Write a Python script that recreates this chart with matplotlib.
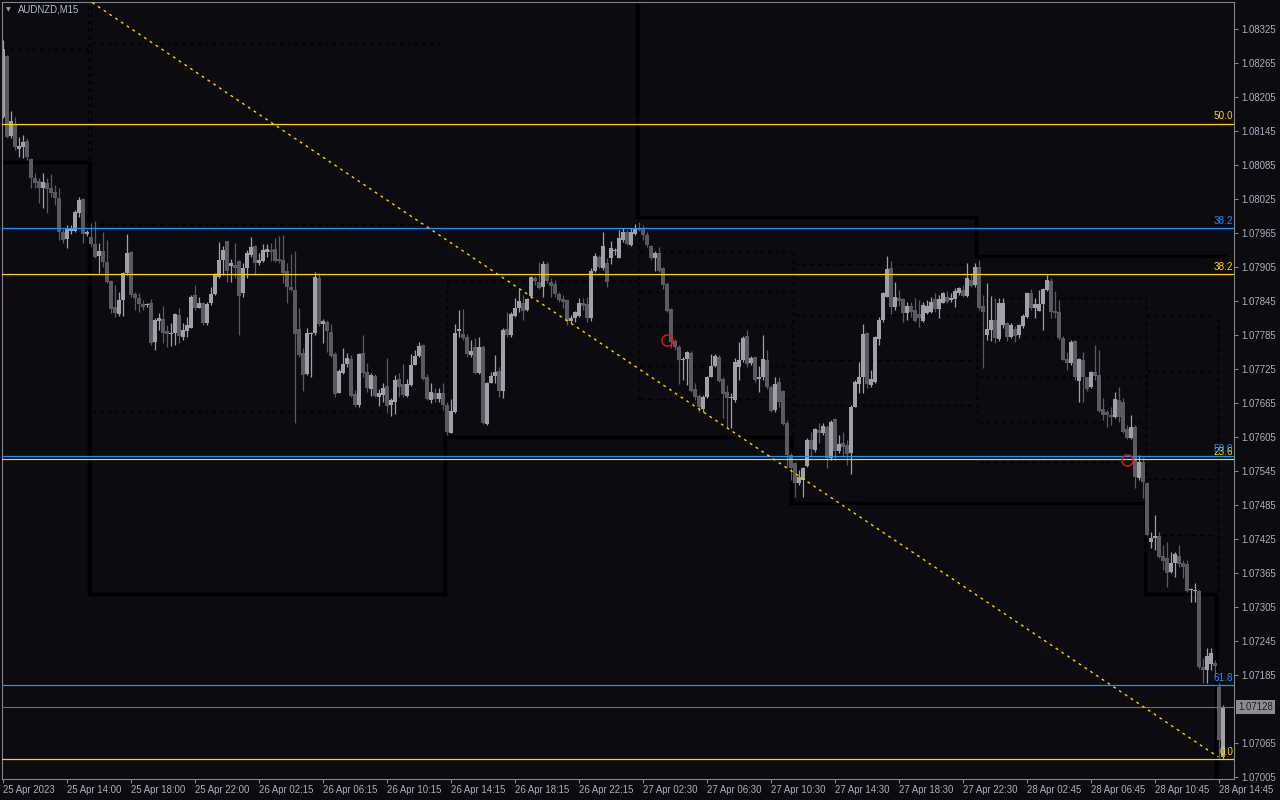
import matplotlib
matplotlib.use("Agg")
import matplotlib.pyplot as plt
import matplotlib.transforms as mtransforms

# ---------------- data ----------------
symbol_label = "AUDNZD,M15"

opens = [
1.08170,1.08278,1.08137,1.08156,1.08114,1.08117,1.08128,1.08096,1.08063,1.08057,
1.08045,1.08054,1.08045,1.08038,1.08027,1.07966,1.07955,1.07969,1.07969,1.08001,
1.08026,1.07964,1.07958,1.07946,1.07925,1.07934,1.07914,1.07881,1.07835,1.07822,
1.07847,1.07895,1.07932,1.07858,1.07851,1.07840,1.07838,1.07842,1.07773,1.07810,
1.07814,1.07792,1.07787,1.07789,1.07821,1.07782,1.07792,1.07798,1.07856,1.07833,
1.07842,1.07807,1.07842,1.07858,1.07888,1.07918,1.07951,1.07907,1.07909,1.07916,
1.07860,1.07904,1.07927,1.07943,1.07913,1.07916,1.07932,1.07935,1.07937,1.07920,
1.07918,1.07898,1.07870,1.07865,1.07796,1.07754,1.07717,1.07787,1.07789,1.07886,
1.07805,1.07808,1.07791,1.07752,1.07683,1.07718,1.07734,1.07743,1.07681,1.07662,
1.07754,1.07720,1.07690,1.07713,1.07676,1.07679,1.07695,1.07662,1.07667,1.07708,
1.07699,1.07678,1.07697,1.07732,1.07748,1.07768,1.07711,1.07671,1.07683,1.07672,
1.07683,1.07662,1.07612,1.07649,1.07792,1.07787,1.07782,1.07750,1.07764,1.07718,
1.07764,1.07628,1.07701,1.07713,1.07722,1.07687,1.07796,1.07785,1.07819,1.07833,
1.07842,1.07829,1.07854,1.07886,1.07879,1.07870,1.07911,1.07879,1.07875,1.07858,
1.07849,1.07847,1.07810,1.07815,1.07819,1.07842,1.07840,1.07815,1.07898,1.07923,
1.07904,1.07913,1.07921,1.07934,1.07921,1.07953,1.07967,1.07944,1.07964,1.07974,
1.07974,1.07962,1.07943,1.07921,1.07930,1.07904,1.07875,1.07831,1.07775,1.07764,
1.07741,1.07743,1.07754,1.07690,1.07678,1.07655,1.07676,1.07710,1.07731,1.07747,
1.07708,1.07685,1.07674,1.07671,1.07729,1.07741,1.07784,1.07736,1.07747,1.07708,
1.07711,1.07741,1.07694,1.07653,1.07702,1.07687,1.07630,1.07573,1.07559,1.07524,
1.07529,1.07554,1.07600,1.07582,1.07618,1.07612,1.07623,1.07567,1.07637,1.07581,
1.07595,1.07591,1.07577,1.07658,1.07699,1.07711,1.07789,1.07697,1.07702,1.07778,
1.07812,1.07852,1.07904,1.07835,1.07851,1.07849,1.07824,1.07837,1.07829,1.07822,
1.07810,1.07824,1.07826,1.07849,1.07831,1.07842,1.07852,1.07847,1.07849,1.07860,
1.07865,1.07854,1.07882,1.07874,1.07905,1.07837,1.07785,1.07794,1.07812,1.07778,
1.07803,1.07807,1.07782,1.07796,1.07785,1.07801,1.07817,1.07860,1.07833,1.07828,
1.07840,1.07865,1.07881,1.07828,1.07826,1.07780,1.07743,1.07736,1.07775,1.07704,
1.07741,1.07710,1.07694,1.07720,1.07715,1.07655,1.07649,1.07644,1.07641,1.07671,
1.07667,1.07619,1.07604,1.07623,1.07533,1.07561,1.07524,1.07420,1.07427,1.07430,
1.07395,1.07392,1.07367,1.07383,1.07395,1.07383,1.07381,1.07335,1.07333,1.07333,
1.07199,1.07194,1.07204,1.07206,1.07164,1.07040]

highs = [
1.08306,1.08280,1.08181,1.08170,1.08135,1.08139,1.08133,1.08098,1.08071,1.08063,
1.08071,1.08063,1.08070,1.08050,1.08045,1.07973,1.07980,1.07980,1.08006,1.08029,
1.08027,1.07971,1.07983,1.07987,1.07948,1.07966,1.07953,1.07882,1.07874,1.07861,
1.07897,1.07964,1.07934,1.07861,1.07860,1.07847,1.07842,1.07849,1.07815,1.07824,
1.07837,1.07803,1.07807,1.07824,1.07833,1.07807,1.07817,1.07856,1.07874,1.07852,
1.07844,1.07844,1.07870,1.07895,1.07950,1.07943,1.07951,1.07920,1.07948,1.07918,
1.07913,1.07935,1.07958,1.07944,1.07930,1.07946,1.07946,1.07948,1.07957,1.07960,
1.07962,1.07913,1.07928,1.07934,1.07833,1.07762,1.07798,1.07791,1.07897,1.07895,
1.07814,1.07812,1.07805,1.07755,1.07725,1.07762,1.07754,1.07750,1.07688,1.07754,
1.07785,1.07736,1.07718,1.07717,1.07690,1.07701,1.07745,1.07674,1.07715,1.07718,
1.07734,1.07708,1.07752,1.07759,1.07773,1.07769,1.07717,1.07701,1.07692,1.07692,
1.07701,1.07667,1.07672,1.07805,1.07829,1.07831,1.07787,1.07777,1.07780,1.07782,
1.07768,1.07702,1.07720,1.07750,1.07729,1.07798,1.07826,1.07826,1.07851,1.07867,
1.07856,1.07851,1.07890,1.07890,1.07914,1.07916,1.07914,1.07886,1.07882,1.07861,
1.07856,1.07849,1.07821,1.07828,1.07851,1.07851,1.07852,1.07904,1.07930,1.07927,
1.07967,1.07921,1.07951,1.07939,1.07971,1.07974,1.07971,1.07974,1.07981,1.07985,
1.07980,1.07967,1.07944,1.07934,1.07941,1.07905,1.07879,1.07833,1.07778,1.07768,
1.07747,1.07757,1.07757,1.07701,1.07681,1.07679,1.07713,1.07752,1.07752,1.07750,
1.07710,1.07697,1.07683,1.07745,1.07773,1.07784,1.07794,1.07748,1.07747,1.07731,
1.07785,1.07759,1.07697,1.07711,1.07711,1.07688,1.07635,1.07577,1.07561,1.07547,
1.07552,1.07604,1.07614,1.07621,1.07630,1.07630,1.07626,1.07635,1.07639,1.07609,
1.07614,1.07600,1.07662,1.07706,1.07738,1.07805,1.07791,1.07724,1.07784,1.07817,
1.07861,1.07925,1.07916,1.07879,1.07865,1.07851,1.07844,1.07844,1.07851,1.07847,
1.07844,1.07847,1.07852,1.07860,1.07856,1.07861,1.07863,1.07860,1.07868,1.07870,
1.07874,1.07913,1.07895,1.07913,1.07918,1.07856,1.07877,1.07854,1.07851,1.07851,
1.07851,1.07808,1.07807,1.07801,1.07805,1.07822,1.07861,1.07867,1.07851,1.07865,
1.07868,1.07891,1.07886,1.07863,1.07847,1.07784,1.07755,1.07777,1.07777,1.07745,
1.07755,1.07711,1.07722,1.07768,1.07759,1.07674,1.07653,1.07657,1.07685,1.07694,
1.07674,1.07626,1.07644,1.07626,1.07573,1.07570,1.07526,1.07437,1.07468,1.07437,
1.07415,1.07420,1.07402,1.07402,1.07415,1.07388,1.07388,1.07339,1.07347,1.07335,
1.07215,1.07233,1.07233,1.07211,1.07171,1.07132]

lows = [
1.08169,1.08133,1.08133,1.08112,1.08100,1.08098,1.08094,1.08045,1.08045,1.08018,
1.08010,1.08001,1.08029,1.08015,1.07953,1.07948,1.07939,1.07964,1.07966,1.07994,
1.07948,1.07960,1.07941,1.07921,1.07895,1.07905,1.07877,1.07824,1.07817,1.07819,
1.07819,1.07891,1.07852,1.07829,1.07826,1.07829,1.07835,1.07768,1.07759,1.07794,
1.07771,1.07764,1.07766,1.07768,1.07771,1.07777,1.07782,1.07798,1.07829,1.07833,
1.07803,1.07803,1.07838,1.07856,1.07886,1.07891,1.07879,1.07879,1.07886,1.07785,
1.07852,1.07886,1.07923,1.07891,1.07909,1.07914,1.07923,1.07916,1.07914,1.07913,
1.07877,1.07842,1.07863,1.07630,1.07747,1.07687,1.07715,1.07711,1.07785,1.07801,
1.07771,1.07755,1.07747,1.07676,1.07683,1.07717,1.07729,1.07676,1.07658,1.07658,
1.07710,1.07685,1.07678,1.07676,1.07660,1.07667,1.07648,1.07642,1.07646,1.07676,
1.07676,1.07676,1.07695,1.07732,1.07747,1.07706,1.07671,1.07665,1.07667,1.07667,
1.07653,1.07609,1.07612,1.07648,1.07782,1.07777,1.07747,1.07747,1.07717,1.07717,
1.07628,1.07626,1.07701,1.07701,1.07676,1.07674,1.07782,1.07782,1.07817,1.07826,
1.07812,1.07828,1.07851,1.07874,1.07867,1.07852,1.07877,1.07852,1.07852,1.07844,
1.07833,1.07803,1.07807,1.07808,1.07817,1.07829,1.07808,1.07810,1.07897,1.07904,
1.07900,1.07870,1.07911,1.07927,1.07921,1.07950,1.07944,1.07943,1.07962,1.07969,
1.07953,1.07941,1.07918,1.07898,1.07897,1.07867,1.07826,1.07762,1.07759,1.07699,
1.07706,1.07697,1.07685,1.07671,1.07649,1.07649,1.07674,1.07710,1.07729,1.07702,
1.07639,1.07621,1.07621,1.07667,1.07706,1.07738,1.07729,1.07732,1.07702,1.07685,
1.07706,1.07690,1.07649,1.07649,1.07658,1.07626,1.07552,1.07529,1.07499,1.07521,
1.07499,1.07552,1.07572,1.07579,1.07595,1.07609,1.07551,1.07565,1.07565,1.07577,
1.07570,1.07556,1.07540,1.07657,1.07683,1.07683,1.07692,1.07694,1.07701,1.07768,
1.07808,1.07852,1.07822,1.07829,1.07837,1.07808,1.07812,1.07817,1.07808,1.07799,
1.07808,1.07822,1.07824,1.07826,1.07815,1.07842,1.07842,1.07844,1.07835,1.07856,
1.07852,1.07852,1.07870,1.07870,1.07829,1.07727,1.07777,1.07775,1.07771,1.07775,
1.07798,1.07775,1.07780,1.07773,1.07780,1.07798,1.07815,1.07829,1.07815,1.07828,
1.07794,1.07863,1.07815,1.07815,1.07777,1.07740,1.07724,1.07732,1.07706,1.07667,
1.07667,1.07687,1.07692,1.07706,1.07649,1.07635,1.07623,1.07626,1.07639,1.07632,
1.07612,1.07602,1.07602,1.07515,1.07529,1.07498,1.07430,1.07409,1.07406,1.07392,
1.07370,1.07340,1.07365,1.07358,1.07376,1.07356,1.07331,1.07314,1.07314,1.07196,
1.07171,1.07171,1.07194,1.07181,1.07038,1.07037]

closes = [
1.08290,1.08135,1.08162,1.08117,1.08119,1.08126,1.08100,1.08063,1.08054,1.08045,
1.08056,1.08043,1.08036,1.08027,1.07966,1.07953,1.07973,1.07973,1.08003,1.08024,
1.07964,1.07966,1.07946,1.07923,1.07934,1.07914,1.07879,1.07831,1.07824,1.07847,
1.07895,1.07930,1.07856,1.07851,1.07840,1.07835,1.07838,1.07771,1.07812,1.07815,
1.07789,1.07787,1.07789,1.07822,1.07784,1.07794,1.07803,1.07852,1.07833,1.07842,
1.07807,1.07840,1.07858,1.07891,1.07918,1.07935,1.07898,1.07913,1.07904,1.07854,
1.07904,1.07930,1.07941,1.07913,1.07918,1.07935,1.07937,1.07932,1.07916,1.07916,
1.07895,1.07870,1.07865,1.07787,1.07750,1.07715,1.07789,1.07789,1.07888,1.07805,
1.07810,1.07792,1.07748,1.07681,1.07722,1.07734,1.07745,1.07678,1.07662,1.07752,
1.07718,1.07692,1.07715,1.07678,1.07683,1.07692,1.07660,1.07671,1.07706,1.07694,
1.07679,1.07699,1.07732,1.07748,1.07766,1.07708,1.07672,1.07685,1.07672,1.07683,
1.07662,1.07614,1.07651,1.07789,1.07796,1.07780,1.07752,1.07757,1.07718,1.07764,
1.07630,1.07701,1.07713,1.07720,1.07687,1.07794,1.07785,1.07822,1.07833,1.07845,
1.07828,1.07849,1.07888,1.07881,1.07868,1.07911,1.07881,1.07872,1.07858,1.07847,
1.07844,1.07810,1.07815,1.07826,1.07842,1.07837,1.07815,1.07898,1.07925,1.07905,
1.07943,1.07879,1.07939,1.07934,1.07957,1.07967,1.07946,1.07967,1.07974,1.07971,
1.07962,1.07944,1.07921,1.07930,1.07898,1.07874,1.07828,1.07773,1.07764,1.07741,
1.07743,1.07755,1.07687,1.07676,1.07657,1.07676,1.07711,1.07731,1.07748,1.07704,
1.07681,1.07674,1.07676,1.07738,1.07741,1.07780,1.07734,1.07745,1.07706,1.07711,
1.07743,1.07694,1.07651,1.07699,1.07667,1.07628,1.07573,1.07551,1.07524,1.07535,
1.07551,1.07600,1.07584,1.07619,1.07612,1.07625,1.07567,1.07632,1.07581,1.07593,
1.07588,1.07575,1.07658,1.07702,1.07711,1.07787,1.07699,1.07708,1.07782,1.07812,
1.07860,1.07902,1.07835,1.07852,1.07845,1.07824,1.07837,1.07826,1.07810,1.07815,
1.07838,1.07837,1.07844,1.07831,1.07849,1.07860,1.07844,1.07851,1.07863,1.07868,
1.07854,1.07886,1.07872,1.07905,1.07833,1.07826,1.07796,1.07812,1.07780,1.07842,
1.07842,1.07782,1.07803,1.07784,1.07803,1.07819,1.07860,1.07833,1.07840,1.07840,
1.07867,1.07882,1.07826,1.07824,1.07780,1.07741,1.07736,1.07773,1.07710,1.07743,
1.07710,1.07690,1.07720,1.07713,1.07651,1.07644,1.07644,1.07641,1.07672,1.07641,
1.07614,1.07604,1.07623,1.07535,1.07561,1.07526,1.07432,1.07427,1.07430,1.07393,
1.07386,1.07365,1.07383,1.07399,1.07381,1.07376,1.07333,1.07335,1.07334,1.07199,
1.07194,1.07219,1.07224,1.07201,1.07070,1.07128]

x_tick_bars = [0, 16, 32, 48, 64, 80, 96, 112, 128, 144, 160, 176, 192, 208, 224, 240, 256, 272, 288, 304]
x_tick_labels = ["25 Apr 2023", "25 Apr 14:00", "25 Apr 18:00", "25 Apr 22:00", "26 Apr 02:15",
                 "26 Apr 06:15", "26 Apr 10:15", "26 Apr 14:15", "26 Apr 18:15", "26 Apr 22:15",
                 "27 Apr 02:30", "27 Apr 06:30", "27 Apr 10:30", "27 Apr 14:30", "27 Apr 18:30",
                 "27 Apr 22:30", "28 Apr 02:45", "28 Apr 06:45", "28 Apr 10:45", "28 Apr 14:45"]

y_tick_labels = ["1.08325", "1.08265", "1.08205", "1.08145", "1.08085", "1.08025", "1.07965",
                 "1.07905", "1.07845", "1.07785", "1.07725", "1.07665", "1.07605", "1.07545",
                 "1.07485", "1.07425", "1.07365", "1.07305", "1.07245", "1.07185", "1.07065",
                 "1.07005"]

fib_yellow_names = ["0.0", "23.6", "38.2", "50.0"]
fib_yellow_levels = [1.07036, 1.07566, 1.07893, 1.08158]
fib_blue_names = ["38.2", "50.0", "61.8"]
fib_blue_levels = [1.07974, 1.07571, 1.07167]

current_price = 1.07128

trend_bars = [22.3, 303.8]
trend_prices = [1.08372, 1.07040]

marker_bars = [166, 281]
marker_prices = [1.07777, 1.07565]

# thick black step lines (bar, price vertices)
lower_step_bars = [-0.25, 21.6, 21.6, 110.6, 110.6, 197.1, 197.1, 285.5, 285.5, 303.3, 303.3]
lower_step_prices = [1.08091, 1.08091, 1.07328, 1.07328, 1.07605, 1.07605, 1.07489, 1.07489,
                     1.07328, 1.07328, 1.06990]
upper_step_bars = [158.6, 158.6, 243.3, 243.3, 305.3]
upper_step_prices = [1.08400, 1.07994, 1.07994, 1.07925, 1.07925]

# dashed black level segments: start bar, end bar, price
dash_start = [-0.25, 22.2, 22.2, 22.2, 111.0, 159.3, 159.3, 159.3, 159.3, 159.3,
              198.0, 198.0, 198.0, 198.0, 244.0, 244.0, 244.0, 244.0, 244.0,
              286.0, 286.0, 286.0, 286.0]
dash_end = [21.3, 110.3, 110.3, 110.3, 158.3, 197.0, 197.0, 197.0, 197.0, 197.0,
            243.0, 243.0, 243.0, 243.0, 285.0, 285.0, 285.0, 285.0, 285.0,
            303.0, 303.0, 303.0, 303.0]
dash_price = [1.08290, 1.08301, 1.07981, 1.07651, 1.07881, 1.07932, 1.07861, 1.07801, 1.07731, 1.07672,
              1.07911, 1.07821, 1.07741, 1.07662, 1.07851, 1.07782, 1.07710, 1.07632, 1.07561,
              1.07819, 1.07722, 1.07531, 1.07432]
vdash_bar = [21.2, 22.1, 110.9, 158.9, 197.4, 243.6, 285.8, 303.7]
vdash_top = [1.08373, 1.08373, 1.07881, 1.08373, 1.07932, 1.07911, 1.07851, 1.07819]
vdash_bot = [1.07328, 1.07328, 1.07605, 1.07672, 1.07489, 1.07632, 1.07432, 1.07001]

# ---------------- style ----------------
BG = "#0b0b10"
AXIS = "#84848c"
TXT = "#a9b0bf"
BULL = "#a0a0aa"
BEAR = "#5a5a60"
YEL = "#ffd200"
BLUE = "#1e90ff"
FONT = ["Liberation Sans", "DejaVu Sans"]
plt.rcParams["font.family"] = FONT

W, H = 1280, 800
fig = plt.figure(figsize=(W / 100, H / 100), dpi=100, facecolor=BG)
ax = fig.add_axes([2 / W, 21 / H, 1232 / W, 777 / H])
ax.set_facecolor(BG)
ax.set_xlim(-0.25, 307.75)
ax.set_ylim(1.07001, 1.08373)

# black dashed levels
for s, e, p in zip(dash_start, dash_end, dash_price):
    ax.plot([s, e], [p, p], color="#000000", lw=0.9, linestyle=(0, (3, 3)), zorder=1)
for b, t, bt in zip(vdash_bar, vdash_top, vdash_bot):
    ax.plot([b, b], [bt, t], color="#000000", lw=0.9, linestyle=(0, (3, 3)), zorder=1)

# thick black step lines
ax.plot(lower_step_bars, lower_step_prices, color="#000000", lw=2.4, zorder=1.2,
        solid_joinstyle="miter")
ax.plot(upper_step_bars, upper_step_prices, color="#000000", lw=2.4, zorder=1.2,
        solid_joinstyle="miter")

# candles
n = len(closes)
xs = list(range(n))
cols = [BULL if c >= o else BEAR for o, c in zip(opens, closes)]
ax.vlines(xs, lows, highs, colors=cols, lw=0.9, zorder=2)
min_h = 1.8e-5
bottoms = [min(o, c) for o, c in zip(opens, closes)]
heights = [max(abs(c - o), min_h) for o, c in zip(opens, closes)]
ax.bar(xs, heights, bottom=bottoms, width=0.78, color=cols, linewidth=0, zorder=2.5,
       antialiased=False)

# current price line
ax.axhline(current_price, color="#6e6e74", lw=0.8, zorder=2.8)

# fib levels
for name, lv in zip(fib_yellow_names, fib_yellow_levels):
    ax.axhline(lv, color=YEL, lw=0.9, zorder=3)
    ax.text(307.6, lv + 0.00004, name, color=YEL, fontsize=7.2, ha="right", va="bottom", zorder=4)
for name, lv in zip(fib_blue_names, fib_blue_levels):
    ax.axhline(lv, color=BLUE, lw=0.9, zorder=3)
    ax.text(307.6, lv + 0.00004, name, color=BLUE, fontsize=7.2, ha="right", va="bottom", zorder=4)

# trend line
ax.plot(trend_bars, trend_prices, color=YEL, lw=1.0, linestyle=(0, (2, 3)), zorder=3.5)

# red markers
ax.plot(marker_bars, marker_prices, linestyle="none", marker="o", ms=8, mfc="none",
        mec="#d81818", mew=1.1, zorder=4)

# axes styling
for sp in ax.spines.values():
    sp.set_color(AXIS)
    sp.set_linewidth(0.8)

ax.yaxis.tick_right()
yt = [float(s) for s in y_tick_labels]
ax.set_yticks(yt)
ax.set_yticklabels(y_tick_labels)
ax.tick_params(axis="y", colors=AXIS, labelcolor=TXT, labelsize=6.9, length=3, width=0.8, pad=2)

ax.set_xticks(x_tick_bars)
ax.set_xticklabels(x_tick_labels, ha="left")
ax.tick_params(axis="x", colors=AXIS, labelcolor=TXT, labelsize=6.9, length=3, width=0.8, pad=1.5)

# current price box
trans = mtransforms.blended_transform_factory(ax.transAxes, ax.transData)
ax.text(1.0035, current_price, "1.07128", transform=trans, color="#1d1d26", fontsize=6.9,
        ha="left", va="center",
        bbox=dict(facecolor="#8c8c92", edgecolor="none", boxstyle="square,pad=0.25"),
        zorder=6, clip_on=False)

# title
fig.text(8 / W, 1 - 10 / H, "\u25BC", color="#9aa0ac", fontsize=4.5, ha="center", va="center",
         family=["DejaVu Sans"])
fig.text(18 / W, 1 - 10 / H, symbol_label, color="#b4bcc8", fontsize=6.9, ha="left", va="center")

fig.savefig("out.png", dpi=100, facecolor=BG)
